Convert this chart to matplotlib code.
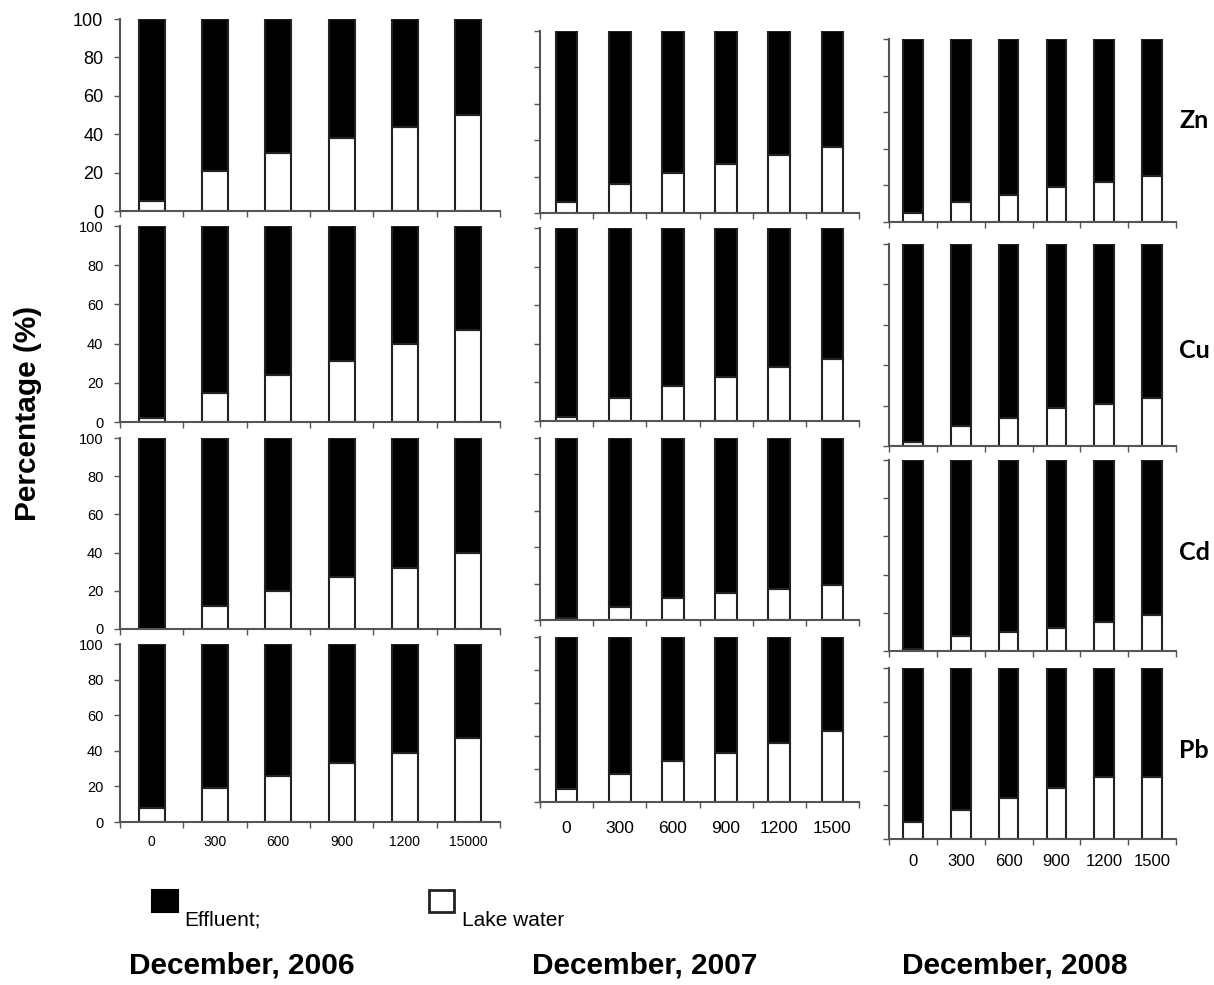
import matplotlib
matplotlib.use('Agg')
import matplotlib.pyplot as plt
from matplotlib.patches import Rectangle
import numpy as np

plt.rcParams['font.family'] = ['Liberation Sans', 'DejaVu Sans']

# ------------------------------- data ------------------------------- #
times = ['0', '300', '600', '900', '1200', '1500']
times_2006 = ['0', '300', '600', '900', '1200', '15000']   # typo kept from the original
metals = ['Zn', 'Cu', 'Cd', 'Pb']
years = ['December, 2006', 'December, 2007', 'December, 2008']

# lake water share (%), effluent is the rest up to 100
zn_2006 = [5, 21, 30, 38, 44, 50]
cu_2006 = [2, 15, 24, 31, 40, 47]
cd_2006 = [0, 12, 20, 27, 32, 40]
pb_2006 = [8, 19, 26, 33, 39, 47]

zn_2007 = [6, 16, 22, 27, 32, 36]
cu_2007 = [2, 12, 18, 23, 28, 32]
cd_2007 = [1, 7, 12, 15, 17, 19]
pb_2007 = [8, 17, 25, 30, 36, 43]

zn_2008 = [5, 11, 15, 19, 22, 25]
cu_2008 = [2, 10, 14, 19, 21, 24]
cd_2008 = [1, 8, 10, 12, 15, 19]
pb_2008 = [10, 17, 24, 30, 36, 36]

lake = [[zn_2006, cu_2006, cd_2006, pb_2006],
        [zn_2007, cu_2007, cd_2007, pb_2007],
        [zn_2008, cu_2008, cd_2008, pb_2008]]

# ------------------------------ layout ------------------------------ #
W, H = 1214, 985
col_x = [(120, 500), (540, 859), (889, 1176)]
row_y = [[(19, 211), (226, 422), (438, 629), (644, 822)],
         [(31, 213), (228, 421), (438, 620), (637, 802)],
         [(39, 222), (244, 446), (460, 651), (668, 839)]]
xlabel_pad = [9, 14, 11]
xlabel_size = [10, 12.5, 12]
ylabel_size = [13, 10.5, 10.5, 10.5]

fig = plt.figure(figsize=(W / 100, H / 100), dpi=100)

x = np.arange(len(times))
spine_col = '#555555'

for c in range(3):
    x0, x1 = col_x[c]
    for r in range(4):
        top, bot = row_y[c][r]
        ax = fig.add_axes([x0 / W, 1 - bot / H, (x1 - x0) / W, (bot - top) / H])
        lw_vals = np.array(lake[c][r])
        ef_vals = 100 - lw_vals
        ax.bar(x, lw_vals, width=0.41, color='white', edgecolor='#222222', linewidth=1.5)
        ax.bar(x, ef_vals, width=0.41, bottom=lw_vals, color='black',
               edgecolor='#222222', linewidth=1.5)
        ax.set_xlim(-0.5, 5.5)
        ax.set_ylim(0, 100)
        for s in ['top', 'right']:
            ax.spines[s].set_visible(False)
        for s in ['left', 'bottom']:
            ax.spines[s].set_color(spine_col)
            ax.spines[s].set_linewidth(1.5)
        ax.set_yticks([0, 20, 40, 60, 80, 100])
        ax.tick_params(axis='y', direction='out', length=4, width=1, color=spine_col)
        if c == 0:
            ax.tick_params(axis='y', labelsize=ylabel_size[r], pad=8)
        else:
            ax.set_yticklabels([])
        ax.set_xticks(np.arange(-0.5, 6.0, 1.0), minor=True)
        ax.tick_params(axis='x', which='minor', direction='out', length=4, width=1,
                       color=spine_col)
        ax.set_xticks(x)
        if r == 3:
            ax.set_xticklabels(times_2006 if c == 0 else times)
            ax.tick_params(axis='x', which='major', length=0, pad=xlabel_pad[c],
                           labelsize=xlabel_size[c])
        else:
            ax.set_xticklabels([])
            ax.tick_params(axis='x', which='major', length=0)

# metal labels on the right
metal_y = [120, 350, 553, 751]
for m, yy in zip(metals, metal_y):
    fig.text(1194 / W, 1 - yy / H, m, ha='center', va='center', fontsize=18,
             fontweight='bold', family=['Lato', 'DejaVu Sans'])

# y label
fig.text(28 / W, 1 - 413 / H, 'Percentage (%)', rotation=90, ha='center', va='center',
         fontsize=21.5, fontweight='bold')

# legend
fig.patches.append(Rectangle((152 / W, 1 - 912 / H), 26 / W, 22 / H, transform=fig.transFigure,
                             facecolor='black', edgecolor='black', linewidth=1.5))
fig.patches.append(Rectangle((429 / W, 1 - 912 / H), 25 / W, 22 / H, transform=fig.transFigure,
                             facecolor='white', edgecolor='#222222', linewidth=2))
fig.text(184 / W, 1 - 926 / H, 'Effluent;', ha='left', va='baseline', fontsize=15)
fig.text(462 / W, 1 - 926 / H, 'Lake water', ha='left', va='baseline', fontsize=15)

# column titles at the bottom
year_x = [242, 645, 1015]
for yr, xx in zip(years, year_x):
    fig.text(xx / W, 1 - 966 / H, yr, ha='center', va='center', fontsize=21.5,
             fontweight='bold')

fig.savefig('out.png', dpi=100)
